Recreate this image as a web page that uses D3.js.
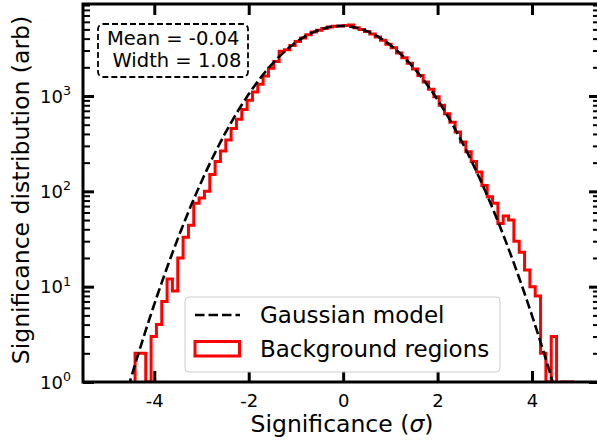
<!DOCTYPE html>
<html>
<head>
<meta charset="utf-8">
<script src="https://cdn.jsdelivr.net/npm/d3@7"></script>
<style>
body{margin:0;background:#fff;}
svg{display:block;font-family:"DejaVu Sans",sans-serif;}
</style>
</head>
<body>
<div id="chart"></div>
<script>
// histogram bins (left edge of first bin, bin width)
var binStart = -4.407;
var binWidth = 0.113;
// counts per bin
var counts = [
    2, 2, 1, 3, 4, 7, 12, 9, 20, 33,
    44, 75, 85, 100, 150, 205, 265, 345, 455, 570,
    720, 900, 1100, 1330, 1620, 1950, 2300, 2950, 3050, 3380,
    3720, 4050, 4380, 4680, 4900, 5120, 5280, 5380, 5420, 5500,
    5560, 5200, 4980, 4750, 4480, 4150, 3850, 3500, 3200, 2830,
    2520, 2200, 1920, 1640, 1400, 1180, 980, 800, 650, 530,
    420, 330, 260, 205, 160, 115, 88, 75, 46, 55,
    50, 30, 23, 15, 10, 8, 2, 1, 3, 0,
    1, 1
];
// gaussian model
var modelMean = -0.04;
var modelWidth = 1.08;
var modelPeak = 5430;

var xTicks = [-4, -2, 0, 2, 4];
var yTicks = [1, 10, 100, 1000];
var yMinorTicks = [2,3,4,5,6,7,8,9, 20,30,40,50,60,70,80,90, 200,300,400,500,600,700,800,900, 2000,3000,4000,5000,6000,7000,8000,9000];
var xDomain = [-5.51, 5.44];
var yDomain = [1, 9230];

var width = 597, height = 442;
var margin = {top: 4, right: -3, bottom: 60, left: 83};
var contentWidth = width - margin.left - margin.right,
    contentHeight = height - margin.top - margin.bottom;

var svg = d3.select("#chart").append("svg")
    .attr("width", width)
    .attr("height", height);

var g = svg.append("g")
    .attr("transform", "translate(" + margin.left + "," + margin.top + ")");

var xScale = d3.scaleLinear().domain(xDomain).range([0, contentWidth]);
var yScale = d3.scaleLog().domain(yDomain).range([contentHeight, 0]);

g.append("clipPath").attr("id", "plot-clip")
    .append("rect")
    .attr("width", contentWidth)
    .attr("height", contentHeight);

// step outline of the histogram
var yOf = function(v){ return v > 0 ? yScale(v) : contentHeight + 20; };
var steps = [[xScale(binStart), contentHeight + 20]];
counts.forEach(function(c, i){
    var x0 = xScale(binStart + i * binWidth),
        x1 = xScale(binStart + (i + 1) * binWidth);
    steps.push([x0, yOf(c)]);
    steps.push([x1, yOf(c)]);
});
steps.push([xScale(binStart + counts.length * binWidth), contentHeight + 20]);

var line = d3.line();

g.append("path")
    .attr("clip-path", "url(#plot-clip)")
    .attr("d", line(steps))
    .attr("fill", "none")
    .attr("stroke", "#ff0000")
    .attr("stroke-width", 3)
    .attr("stroke-linejoin", "miter");

// model curve
var curve = d3.range(xDomain[0], xDomain[1], 0.02).map(function(x){
    var d = x - modelMean;
    return [xScale(x), yScale(modelPeak * Math.exp(-d * d / (2 * modelWidth * modelWidth)))];
});
g.append("path")
    .attr("clip-path", "url(#plot-clip)")
    .attr("d", line(curve))
    .attr("fill", "none")
    .attr("stroke", "#000")
    .attr("stroke-width", 2.6)
    .attr("stroke-dasharray", "9.5,4");

// ticks on all four sides, pointing in
var styleTicks = function(sel, w){
    sel.select(".domain").remove();
    sel.selectAll("line").attr("stroke", "#000").attr("stroke-width", w);
};

g.append("g")
    .attr("transform", "translate(0," + contentHeight + ")")
    .call(d3.axisBottom(xScale).tickValues(xTicks).tickSize(-11).tickPadding(12)
        .tickFormat(function(d){ return d < 0 ? "-" + Math.abs(d) : d; }))
    .call(styleTicks, 3)
    .selectAll("text")
    .attr("fill", "#000")
    .attr("font-size", 18)
    .attr("font-family", "DejaVu Sans");

g.append("g")
    .call(d3.axisTop(xScale).tickValues(xTicks).tickSize(-11).tickFormat(""))
    .call(styleTicks, 3);

g.append("g")
    .call(d3.axisLeft(yScale).tickValues(yTicks).tickSize(-11).tickFormat(""))
    .call(styleTicks, 3);
g.append("g")
    .call(d3.axisLeft(yScale).tickValues(yMinorTicks).tickSize(-7).tickFormat(""))
    .call(styleTicks, 2);
g.append("g")
    .attr("transform", "translate(" + contentWidth + ",0)")
    .call(d3.axisRight(yScale).tickValues(yTicks).tickSize(-11).tickFormat(""))
    .call(styleTicks, 3);
g.append("g")
    .attr("transform", "translate(" + contentWidth + ",0)")
    .call(d3.axisRight(yScale).tickValues(yMinorTicks).tickSize(-7).tickFormat(""))
    .call(styleTicks, 2);

// y labels as 10^n
var yLab = g.append("g").selectAll("text")
    .data(yTicks)
    .enter().append("text")
    .attr("x", -12)
    .attr("y", function(d){ return yScale(d) + 6.5; })
    .attr("text-anchor", "end")
    .attr("font-size", 18)
    .attr("fill", "#000");
yLab.append("tspan").text("10");
yLab.append("tspan")
    .attr("font-size", 12.6)
    .attr("dy", -7.5)
    .text(function(d){ return Math.round(Math.log10(d)); });

// frame
g.append("rect")
    .attr("width", contentWidth)
    .attr("height", contentHeight)
    .attr("fill", "none")
    .attr("stroke", "#000")
    .attr("stroke-width", 3);

// axis titles
var xTitle = svg.append("text")
    .attr("x", 342)
    .attr("y", 432)
    .attr("text-anchor", "middle")
    .attr("font-size", 23.5)
    .attr("fill", "#000");
xTitle.append("tspan").text("Significance (");
xTitle.append("tspan").attr("font-style", "italic").text("σ");
xTitle.append("tspan").text(")");

svg.append("text")
    .attr("transform", "rotate(-90)")
    .attr("x", -190)
    .attr("y", 29)
    .attr("text-anchor", "middle")
    .attr("font-size", 23.5)
    .attr("fill", "#000")
    .text("Significance distribution (arb)");

// fit result box
svg.append("rect")
    .attr("x", 98).attr("y", 24)
    .attr("width", 150).attr("height", 53)
    .attr("rx", 5)
    .attr("fill", "#fff")
    .attr("stroke", "#000")
    .attr("stroke-width", 1.8)
    .attr("stroke-dasharray", "6,3");
svg.append("text")
    .attr("x", 107).attr("y", 45)
    .attr("font-size", 19.5)
    .text("Mean = " + modelMean.toFixed(2));
svg.append("text")
    .attr("x", 112.5).attr("y", 67)
    .attr("font-size", 19.5)
    .text("Width = " + modelWidth.toFixed(2));

// legend
var legend = svg.append("g");
legend.append("rect")
    .attr("x", 185).attr("y", 297)
    .attr("width", 315).attr("height", 75)
    .attr("rx", 4)
    .attr("fill", "#fff")
    .attr("fill-opacity", 0.8)
    .attr("stroke", "#cccccc")
    .attr("stroke-width", 1);
legend.append("line")
    .attr("x1", 195).attr("x2", 240)
    .attr("y1", 315).attr("y2", 315)
    .attr("stroke", "#000")
    .attr("stroke-width", 2.6)
    .attr("stroke-dasharray", "9.5,4");
legend.append("rect")
    .attr("x", 195).attr("y", 341.5)
    .attr("width", 44.5).attr("height", 14.5)
    .attr("fill", "none")
    .attr("stroke", "#ff0000")
    .attr("stroke-width", 3);
legend.append("text")
    .attr("x", 260).attr("y", 323)
    .attr("font-size", 23)
    .text("Gaussian model");
legend.append("text")
    .attr("x", 260).attr("y", 356.5)
    .attr("font-size", 23)
    .text("Background regions");
</script>
</body>
</html>
